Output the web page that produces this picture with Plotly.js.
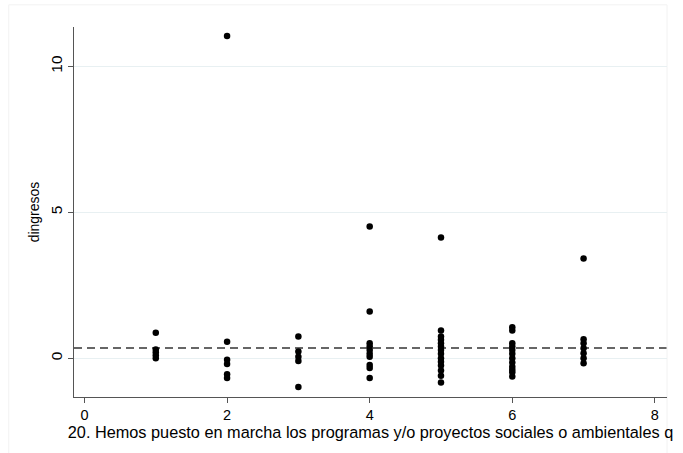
<!DOCTYPE html>
<html><head><meta charset="utf-8">
<script src="https://cdn.plot.ly/plotly-3.0.1.min.js"></script>
<style>html,body{margin:0;padding:0;background:#fff}</style>
</head><body><div id="chart" style="width:683px;height:453px"></div>
<script>
const x1 = [1,1,1,1,1];
const y1 = [0.87,0.30,0.20,0.10,0.00];
const x2 = [2,2,2,2,2,2];
const y2 = [11.04,0.56,-0.05,-0.20,-0.55,-0.68];
const x3 = [3,3,3,3,3];
const y3 = [0.74,0.23,0.05,-0.10,-0.99];
const x4 = [4,4,4,4,4,4,4,4,4,4];
const y4 = [4.51,1.60,0.51,0.40,0.28,0.15,0.05,-0.23,-0.34,-0.68];
const x5 = [5,5,5,5,5,5,5,5,5,5,5,5,5,5];
const y5 = [4.14,0.95,0.74,0.63,0.51,0.40,0.28,0.15,0.00,-0.12,-0.25,-0.42,-0.60,-0.83];
const x6 = [6,6,6,6,6,6,6,6,6,6,6,6];
const y6 = [1.06,0.95,0.51,0.40,0.28,0.15,0.00,-0.15,-0.29,-0.40,-0.48,-0.63];
const x7 = [7,7,7,7,7,7,7];
const y7 = [3.42,0.65,0.51,0.34,0.17,0.00,-0.17];
const meanLine = 0.35;
const xTicks = [0,2,4,6,8];
const yTicks = [0,5,10];
const xTitle = "20. Hemos puesto en marcha los programas y/o proyectos sociales o ambientales q";
const yTitle = "dingresos";

const xs = [].concat(x1,x2,x3,x4,x5,x6,x7);
const ys = [].concat(y1,y2,y3,y4,y5,y6,y7);

const traces = [{
  x: xs, y: ys, type: 'scatter', mode: 'markers',
  marker: {color: '#000', size: 6.5}, hoverinfo: 'none', showlegend: false
}];

const font = {family: 'Liberation Sans, Arial, sans-serif', color: '#000'};
const layout = {
  width: 683, height: 453,
  margin: {l: 74, r: 16, t: 27, b: 56},
  paper_bgcolor: '#fff', plot_bgcolor: '#fff',
  font: Object.assign({size: 14}, font),
  xaxis: {
    range: [-0.147, 8.17], tickvals: xTicks, ticktext: xTicks.map(String),
    showgrid: false, zeroline: false, showline: true, linecolor: '#555', linewidth: 1,
    ticks: 'outside', ticklen: 5, tickcolor: '#555',
    tickfont: Object.assign({size: 14.5}, font),
    title: {text: xTitle, font: Object.assign({size: 16.3}, font), standoff: 0}
  },
  yaxis: {
    range: [-1.33, 11.35], tickvals: yTicks, ticktext: yTicks.map(String),
    tickangle: -90,
    showgrid: true, gridcolor: '#e8f0f2', gridwidth: 1, zeroline: false,
    showline: true, linecolor: '#555', linewidth: 1,
    ticks: 'outside', ticklen: 5, tickcolor: '#555',
    tickfont: Object.assign({size: 15.5}, font),
    title: {text: yTitle, font: Object.assign({size: 14}, font), standoff: 4}
  },
  shapes: [
    {type: 'line', xref: 'paper', x0: 0, x1: 1, yref: 'y', y0: meanLine, y1: meanLine,
     line: {color: '#666', width: 2, dash: '8px,5px'}, layer: 'below'},
    {type: 'rect', xref: 'paper', yref: 'paper', x0: -0.11, x1: 1.0, y0: -0.16, y1: 1.06,
     line: {color: '#f2f2f2', width: 1}, layer: 'below'}
  ]
};
Plotly.newPlot('chart', traces, layout, {staticPlot: true, displayModeBar: false});
</script></body></html>
